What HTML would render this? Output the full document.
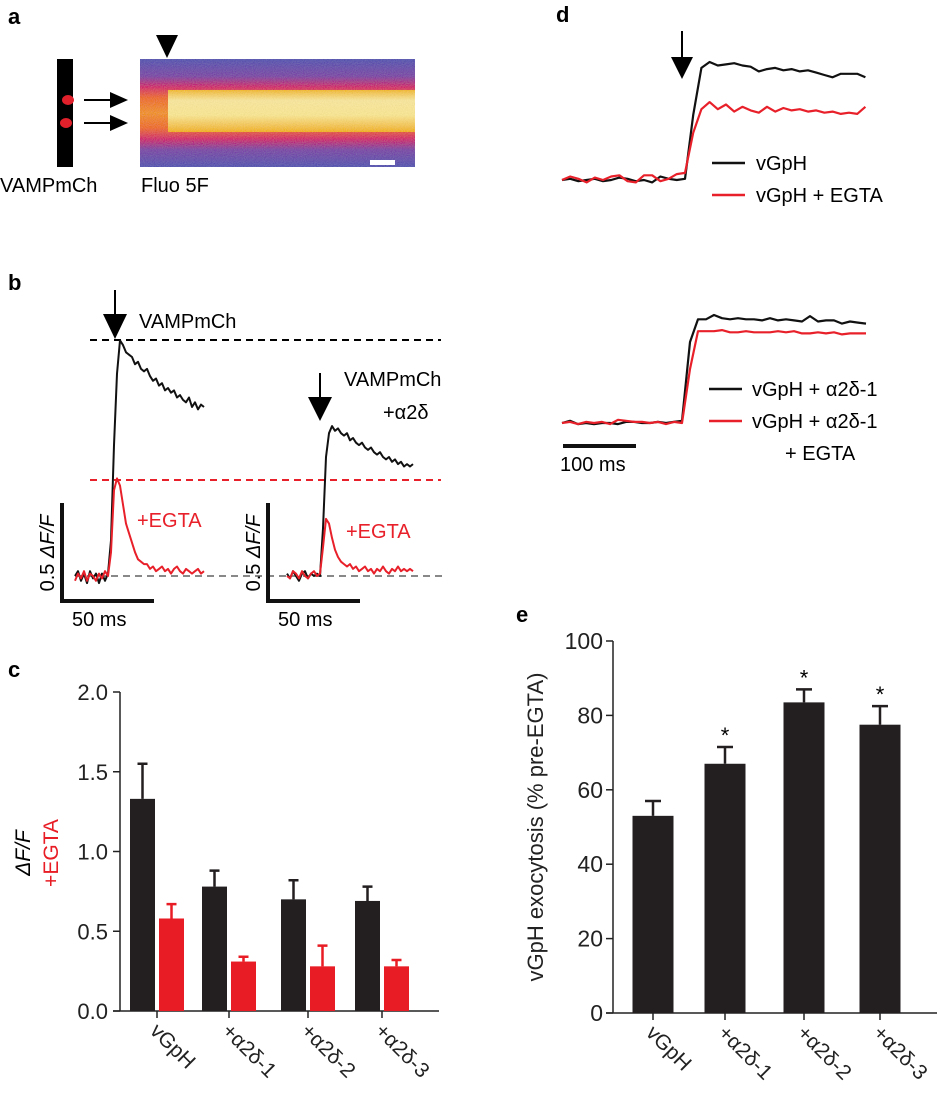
<!DOCTYPE html>
<html><head><meta charset="utf-8">
<style>
body{margin:0;background:#fff;}
svg{display:block;font-family:"Liberation Sans",sans-serif;}
</style></head>
<body>
<svg id="fig" width="946" height="1101" viewBox="0 0 946 1101" xmlns="http://www.w3.org/2000/svg">
<defs>
<linearGradient id="band" x1="0" y1="0" x2="0" y2="1">
<stop offset="0" stop-color="#5656b0"/>
<stop offset="0.16" stop-color="#7a4ca4"/>
<stop offset="0.26" stop-color="#d23a6a"/>
<stop offset="0.36" stop-color="#f06a3a"/>
<stop offset="0.5" stop-color="#f3903a"/>
<stop offset="0.64" stop-color="#f06a3a"/>
<stop offset="0.74" stop-color="#d23a6a"/>
<stop offset="0.84" stop-color="#7a4ca4"/>
<stop offset="1" stop-color="#5656b0"/>
</linearGradient>
<linearGradient id="hot" x1="0" y1="0" x2="0" y2="1">
<stop offset="0" stop-color="#f4b838"/>
<stop offset="0.25" stop-color="#fbe89a"/>
<stop offset="0.6" stop-color="#fce890"/>
<stop offset="1" stop-color="#f4b030"/>
</linearGradient>
<filter id="noise" x="0" y="0" width="1" height="1"><feTurbulence type="fractalNoise" baseFrequency="0.9" numOctaves="1" result="n"/><feColorMatrix type="saturate" values="0" in="n" result="g"/><feComposite in="SourceGraphic" in2="g" operator="arithmetic" k1="0" k2="0.85" k3="0.25" k4="-0.08"/></filter>
</defs>

<!-- Panel a -->
<text x="8" y="24" font-size="22" font-weight="bold">a</text>
<rect x="57" y="59" width="16" height="108" fill="#000"/>
<ellipse cx="68" cy="100" rx="6" ry="5" fill="#e0202a"/>
<ellipse cx="66" cy="123" rx="6" ry="5" fill="#e0202a"/>
<g>
<line x1="84" y1="100" x2="114" y2="100" stroke="#000" stroke-width="2"/><polygon points="110,92 128,100 110,108" fill="#000"/>
<line x1="84" y1="123" x2="114" y2="123" stroke="#000" stroke-width="2"/><polygon points="110,115 128,123 110,131" fill="#000"/>
</g>
<g filter="url(#noise)">
<rect x="140" y="59" width="275" height="108" fill="url(#band)"/>
<rect x="168" y="90" width="247" height="42" fill="url(#hot)"/>
</g>
<rect x="370" y="160" width="25" height="5" fill="#fff"/>
<polygon points="156,35 178,35 167,58" fill="#000"/>
<text x="0" y="192" font-size="20">VAMPmCh</text>
<text x="141" y="192" font-size="20">Fluo 5F</text>

<!-- Panel b -->
<text x="8" y="290" font-size="22" font-weight="bold">b</text>
<g id="panelB"></g>

<!-- Panel c -->
<text x="8" y="677" font-size="22" font-weight="bold">c</text>
<g id="panelC"></g>

<!-- Panel d -->
<text x="556" y="22" font-size="22" font-weight="bold">d</text>
<g id="panelD"></g>

<!-- Panel e -->
<text x="516" y="622" font-size="22" font-weight="bold">e</text>
<g id="panelE"></g>
</svg>

<script>
const NS = "http://www.w3.org/2000/svg";
function mk(parent, tag, attrs, text){
  const el = document.createElementNS(NS, tag);
  for (const k in attrs) el.setAttribute(k, attrs[k]);
  if (text !== undefined) el.textContent = text;
  parent.appendChild(el);
  return el;
}

// ---------- Panel b data (ΔF/F) ----------
const b1Black = [0,0.02,-0.02,0.01,-0.03,0.02,-0.01,0.01,-0.03,0.01,-0.02,0.01,0.15,0.55,0.85,0.99,0.97,0.94,0.93,0.92,0.89,0.9,0.87,0.86,0.87,0.84,0.82,0.83,0.8,0.81,0.78,0.79,0.77,0.78,0.75,0.76,0.74,0.73,0.75,0.71,0.73,0.7,0.72,0.71];
const b1Red   = [-0.02,0.01,-0.01,0.02,-0.02,0.01,0,-0.02,0.01,-0.01,0.02,0,0.1,0.36,0.41,0.38,0.3,0.22,0.18,0.14,0.1,0.07,0.06,0.05,0.05,0.03,0.04,0.02,0.03,0.04,0.02,0.03,0.01,0.03,0.04,0.02,0.01,0.03,0.02,0.01,0.02,0.03,0.01,0.02];
const b2Black = [0.01,-0.01,0.02,0,-0.02,0.01,0.02,-0.01,0.01,0,0.01,0,0.2,0.5,0.6,0.63,0.61,0.62,0.6,0.59,0.6,0.57,0.58,0.56,0.55,0.56,0.54,0.53,0.54,0.52,0.51,0.52,0.5,0.49,0.5,0.48,0.49,0.47,0.48,0.46,0.47,0.46,0.47];
const b2Red   = [0,-0.01,0.02,0.01,-0.01,0.02,0,-0.01,0.01,0.02,0,0.01,0.12,0.24,0.22,0.16,0.11,0.08,0.06,0.05,0.04,0.05,0.03,0.04,0.02,0.03,0.04,0.02,0.03,0.01,0.03,0.02,0.04,0.02,0.01,0.03,0.02,0.04,0.02,0.03,0.02,0.03,0.02];
const bScaleLabel = "0.5 ";
const b = document.getElementById("panelB");
const bY = v => 576 - v*238;
function trace(g, arr, x0, dx, yf, color, name, w){
  const pts = arr.map((v,i)=> (x0+i*dx).toFixed(1)+","+yf(v).toFixed(1)).join(" ");
  const p = mk(g,"polyline",{points:pts,fill:"none",stroke:color,"stroke-width":w||2,"stroke-linejoin":"round"});
  
  
  return p;
}
mk(b,"line",{x1:90,y1:340,x2:441,y2:340,stroke:"#000","stroke-width":2,"stroke-dasharray":"7,5",});
mk(b,"line",{x1:90,y1:480,x2:441,y2:480,stroke:"#e8202a","stroke-width":2,"stroke-dasharray":"7,5",});
mk(b,"line",{x1:75,y1:576,x2:444,y2:576,stroke:"#888","stroke-width":2,"stroke-dasharray":"7,5",});
trace(b,b1Black,75,3,bY,"#111","trace-vampmch");
trace(b,b1Red,75,3,bY,"#e8202a","trace-vampmch-egta");
trace(b,b2Black,287,3,bY,"#111","trace-a2d");
trace(b,b2Red,287,3,bY,"#e8202a","trace-a2d-egta");
mk(b,"line",{x1:115,y1:290,x2:115,y2:318,stroke:"#000","stroke-width":2,});
mk(b,"polygon",{points:"103,314 127,314 115,339",fill:"#000",});
mk(b,"line",{x1:320,y1:373,x2:320,y2:401,stroke:"#000","stroke-width":2,});
mk(b,"polygon",{points:"308,397 332,397 320,421",fill:"#000",});
mk(b,"text",{x:139,y:328,"font-size":20,},"VAMPmCh");
mk(b,"text",{x:344,y:386,"font-size":20,},"VAMPmCh");
mk(b,"text",{x:383,y:419,"font-size":20,},"+α2δ");
mk(b,"text",{x:137,y:527,"font-size":20,fill:"#e8202a",},"+EGTA");
mk(b,"text",{x:346,y:538,"font-size":20,fill:"#e8202a",},"+EGTA");
[[62,0],[268,1]].forEach(([sx,i])=>{
  const g = mk(b,"g",{});
  
  
  mk(g,"path",{d:`M${sx},503 V601 H${sx+92}`,fill:"none",stroke:"#111","stroke-width":4});
  const t = mk(g,"text",{transform:`translate(${sx-8},553) rotate(-90)`,"text-anchor":"middle","font-size":20});
  mk(t,"tspan",{},bScaleLabel);
  mk(t,"tspan",{"font-style":"italic"},"ΔF/F");
  mk(g,"text",{x:sx+10,y:626,"font-size":20},"50 ms");
});

// ---------- Panel c data ----------
const cCats = ["vGpH","+α2δ-1","+α2δ-2","+α2δ-3"];
const cBlack = [1.33,0.78,0.70,0.69];
const cBlackErr = [0.22,0.10,0.12,0.09];
const cRed = [0.58,0.31,0.28,0.28];
const cRedErr = [0.09,0.03,0.13,0.04];
const cTicks = [0,0.5,1.0,1.5,2.0];
const c = document.getElementById("panelC");
const cY = v => 1011 - v*159.5;
const cX = i => [157,229,308,382][i];
mk(c,"line",{x1:120,y1:cY(2.0),x2:120,y2:1011,stroke:"#222","stroke-width":1.5,});
mk(c,"line",{x1:113,y1:1011,x2:439,y2:1011,stroke:"#222","stroke-width":1.5,});
cTicks.forEach(t=>{
  const l = mk(c,"line",{x1:113,y1:cY(t),x2:120,y2:cY(t),stroke:"#222","stroke-width":1.5});
  
  
  const tx = mk(c,"text",{x:108,y:cY(t)+8,"text-anchor":"end","font-size":22,fill:"#222"},t.toFixed(1));
  
  
});
cCats.forEach((cat,i)=>{
  const cx = cX(i);
  [[cBlack,cBlackErr,"#231f20",-27],[cRed,cRedErr,"#e81c24",2]].forEach(([vals,errs,col,off],k)=>{
    const x = cx+off, w = 25;
    const r = mk(c,"rect",{x:x,y:cY(vals[i]),width:w,height:1011-cY(vals[i]),fill:col});
    
    
    const e = mk(c,"path",{d:`M${x+w/2},${cY(vals[i])} V${cY(vals[i]+errs[i])} M${x+w/2-5},${cY(vals[i]+errs[i])} H${x+w/2+5}`,stroke:col,"stroke-width":2.5,fill:"none"});
    
    
  });
  const tk = mk(c,"line",{x1:cx,y1:1011,x2:cx,y2:1018,stroke:"#222","stroke-width":1.5});
  
  
  const lb = mk(c,"text",{transform:`translate(${cx-8},1032) rotate(45)`,"font-size":21,fill:"#222"},cat);
  
  
});
mk(c,"text",{transform:"translate(30,853) rotate(-90)","text-anchor":"middle","font-size":21,"font-style":"italic",},"ΔF/F");
mk(c,"text",{transform:"translate(58,853) rotate(-90)","text-anchor":"middle","font-size":21,fill:"#e81c24",},"+EGTA");

// ---------- Panel d data (normalised fluorescence) ----------
const dTopBlack = [0,0.01,-0.01,0,0.01,-0.01,0,0.02,0.01,-0.01,0,-0.02,0.03,0.01,0,0.01,0.55,0.95,1.0,0.97,0.98,0.99,0.97,0.96,0.92,0.94,0.95,0.93,0.94,0.92,0.93,0.91,0.89,0.87,0.9,0.9,0.9,0.87];
const dTopRed   = [0,0.03,0.01,-0.02,0.02,0,0.03,0.04,-0.01,-0.02,0.04,0.04,-0.01,0.01,0.05,0.06,0.4,0.6,0.66,0.6,0.64,0.58,0.62,0.59,0.57,0.62,0.58,0.61,0.59,0.6,0.58,0.59,0.57,0.58,0.56,0.57,0.56,0.62];
const dBotBlack = [0,0.02,-0.01,0,-0.01,0,0,-0.01,0.01,0.01,0,0,0.01,0,0.01,0.02,0.75,0.96,0.96,1.0,0.97,0.96,0.97,0.96,0.96,0.95,0.97,0.95,0.96,0.95,0.94,0.99,0.94,0.95,0.95,0.92,0.94,0.93,0.92];
const dBotRed   = [0,0.01,-0.01,0.01,0,0.01,-0.01,0.03,0.02,0.01,0.01,0,0.01,-0.01,0.01,0,0.5,0.85,0.85,0.85,0.86,0.84,0.84,0.85,0.84,0.84,0.84,0.85,0.84,0.85,0.83,0.83,0.84,0.83,0.84,0.82,0.83,0.83,0.83];
const d = document.getElementById("panelD");
const dTopY = v => 180 - v*118;
const dBotY = v => 423 - v*108;
trace(d,dTopBlack,562,8.2,dTopY,"#111","trace-vgph",2.2);
trace(d,dTopRed,562,8.2,dTopY,"#e8202a","trace-vgph-egta",2.2);
trace(d,dBotBlack,562,8.0,dBotY,"#111","trace-vgph-a2d1",2.2);
trace(d,dBotRed,562,8.0,dBotY,"#e8202a","trace-vgph-a2d1-egta",2.2);
mk(d,"line",{x1:682,y1:31,x2:682,y2:60,stroke:"#000","stroke-width":2,});
mk(d,"polygon",{points:"671,57 693,57 682,79",fill:"#000",});
[[163,"#111","vGpH"],[195,"#e8202a","vGpH + EGTA"]].forEach(([y,col,t])=>{
  const l = mk(d,"line",{x1:712,y1:y,x2:745,y2:y,stroke:col,"stroke-width":2.5});
  
  
  const tx = mk(d,"text",{x:756,y:y+7,"font-size":20},t);
  
  
});
[[389,"#111","vGpH + α2δ-1"],[421,"#e8202a","vGpH + α2δ-1"]].forEach(([y,col,t])=>{
  const l = mk(d,"line",{x1:709,y1:y,x2:742,y2:y,stroke:col,"stroke-width":2.5});
  
  
  const tx = mk(d,"text",{x:752,y:y+7,"font-size":20},t);
  
  
});
mk(d,"text",{x:785,y:460,"font-size":20,},"+ EGTA");
mk(d,"line",{x1:563,y1:446,x2:636,y2:446,stroke:"#111","stroke-width":4,});
mk(d,"text",{x:560,y:471,"font-size":20,},"100 ms");

// ---------- Panel e data ----------
const eCats = ["vGpH","+α2δ-1","+α2δ-2","+α2δ-3"];
const eVals = [53,67,83.5,77.5];
const eErr = [4,4.5,3.5,5];
const eSig = [false,true,true,true];
const eTicks = [0,20,40,60,80,100];
const e = document.getElementById("panelE");
const eY = v => 1013 - v*3.72;
const eX = i => [653,725,804,880][i];
mk(e,"line",{x1:613,y1:eY(100),x2:613,y2:1013,stroke:"#222","stroke-width":1.5,});
mk(e,"line",{x1:606,y1:1013,x2:937,y2:1013,stroke:"#222","stroke-width":1.5,});
eTicks.forEach(t=>{
  const l = mk(e,"line",{x1:606,y1:eY(t),x2:613,y2:eY(t),stroke:"#222","stroke-width":1.5});
  
  
  const tx = mk(e,"text",{x:603,y:eY(t)+8,"text-anchor":"end","font-size":23,fill:"#222"},String(t));
  
  
});
eCats.forEach((cat,i)=>{
  const cx = eX(i), w = 41, x = cx-20.5;
  const r = mk(e,"rect",{x:x,y:eY(eVals[i]),width:w,height:1013-eY(eVals[i]),fill:"#231f20"});
  
  
  const top = eY(eVals[i]+eErr[i]);
  const er = mk(e,"path",{d:`M${cx},${eY(eVals[i])} V${top} M${cx-8},${top} H${cx+8}`,stroke:"#231f20","stroke-width":2.5,fill:"none"});
  
  
  if (eSig[i]) {
    const s = mk(e,"text",{x:cx,y:top-4,"text-anchor":"middle","font-size":22},"*");
    
    
  }
  const tk = mk(e,"line",{x1:cx,y1:1013,x2:cx,y2:1020,stroke:"#222","stroke-width":1.5});
  
  
  const lb = mk(e,"text",{transform:`translate(${cx-8},1034) rotate(45)`,"font-size":21,fill:"#222"},cat);
  
  
});
mk(e,"text",{transform:"translate(543,827) rotate(-90)","text-anchor":"middle","font-size":22,fill:"#222",},"vGpH exocytosis (% pre-EGTA)");
</script>
</body></html>
